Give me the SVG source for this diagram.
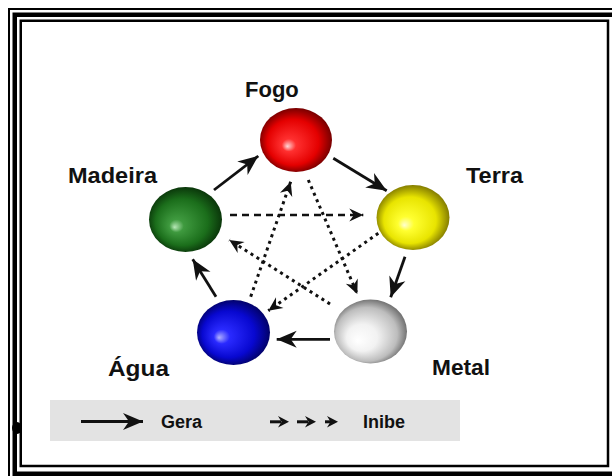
<svg xmlns="http://www.w3.org/2000/svg" width="612" height="476" viewBox="0 0 612 476">
  <defs>
    <style>
      .frame { fill: none; stroke: #000; }
      .label { font-family: "Liberation Sans", Arial, sans-serif; font-weight: bold; font-size: 22px; fill: #111; }
      .legend-text { font-family: "Liberation Sans", Arial, sans-serif; font-weight: bold; font-size: 18px; fill: #111; }
      .gera { fill: none; stroke: #111; stroke-width: 2.8; marker-end: url(#headBig); }
      .inibe { fill: none; stroke: #111; stroke-width: 3; stroke-dasharray: 3 4; marker-end: url(#headSmall); }
      .inibe-dash { fill: none; stroke: #111; stroke-width: 2.6; stroke-dasharray: 7 5; marker-end: url(#headSmall); }
    </style>
    <marker id="headBig" viewBox="-21 -9 22 18" refX="0" refY="0" markerWidth="22" markerHeight="18" orient="auto" markerUnits="userSpaceOnUse">
      <path d="M0,0 L-20,-8.5 L-14,0 L-20,8.5 Z" fill="#111"/>
    </marker>
    <marker id="headSmall" viewBox="-15 -7 16 14" refX="0" refY="0" markerWidth="16" markerHeight="14" orient="auto" markerUnits="userSpaceOnUse">
      <path d="M0,0 L-14,-6.5 L-9.5,0 L-14,6.5 Z" fill="#111"/>
    </marker>
    <radialGradient id="gRed" cx="0.5" cy="0.5" r="0.55" fx="0.38" fy="0.6">
      <stop offset="0" stop-color="#ffd6d6"/>
      <stop offset="0.18" stop-color="#ff3030"/>
      <stop offset="0.65" stop-color="#e40000"/>
      <stop offset="1" stop-color="#5a0000"/>
    </radialGradient>
    <radialGradient id="gGreen" cx="0.5" cy="0.5" r="0.55" fx="0.35" fy="0.62">
      <stop offset="0" stop-color="#b8e8b8"/>
      <stop offset="0.18" stop-color="#3f9a3f"/>
      <stop offset="0.65" stop-color="#1b6e1b"/>
      <stop offset="1" stop-color="#062806"/>
    </radialGradient>
    <radialGradient id="gYellow" cx="0.5" cy="0.5" r="0.55" fx="0.38" fy="0.62">
      <stop offset="0" stop-color="#ffffd0"/>
      <stop offset="0.2" stop-color="#ffff30"/>
      <stop offset="0.65" stop-color="#e8e400"/>
      <stop offset="1" stop-color="#6a6200"/>
    </radialGradient>
    <radialGradient id="gBlue" cx="0.5" cy="0.5" r="0.55" fx="0.3" fy="0.58">
      <stop offset="0" stop-color="#b0b0ff"/>
      <stop offset="0.2" stop-color="#2a2aff"/>
      <stop offset="0.65" stop-color="#0808d0"/>
      <stop offset="1" stop-color="#000050"/>
    </radialGradient>
    <radialGradient id="gWhite" cx="0.5" cy="0.5" r="0.6" fx="0.32" fy="0.65">
      <stop offset="0" stop-color="#ffffff"/>
      <stop offset="0.35" stop-color="#f2f2f2"/>
      <stop offset="0.7" stop-color="#bdbdbd"/>
      <stop offset="1" stop-color="#3c3c3c"/>
    </radialGradient>
  </defs>

  <rect x="0" y="0" width="612" height="476" fill="#fff"/>

  <!-- picture frame -->
  <g id="frame">
    <rect class="frame" x="9" y="9" width="640" height="480" stroke-width="2"/>
    <rect class="frame" x="14.75" y="14.75" width="640" height="459" stroke-width="4.5"/>
    <rect class="frame" x="20.75" y="20.75" width="587.25" height="445.25" stroke-width="2.5"/>
    <ellipse cx="17" cy="428" rx="5" ry="6" fill="#000"/>
  </g>

  <!-- legend band -->
  <g id="legend">
    <rect x="50" y="400" width="410" height="41" fill="#e3e3e3"/>
    <line x1="81" y1="421.5" x2="143" y2="421.5" class="gera"/>
    <text class="legend-text" x="161" y="428">Gera</text>
    <g fill="#111">
      <rect x="270" y="420.3" width="11" height="3"/>
      <path d="M289,421.8 L278,416 L281.5,421.8 L278,427.6 Z"/>
      <rect x="297" y="420.3" width="11" height="3"/>
      <path d="M316,421.8 L305,416 L308.5,421.8 L305,427.6 Z"/>
      <rect x="325" y="420.3" width="6" height="3"/>
      <path d="M338,421.8 L327,416 L330.5,421.8 L327,427.6 Z"/>
    </g>
    <text class="legend-text" x="363" y="428">Inibe</text>
  </g>

  <!-- connectors: generating cycle (solid) and inhibiting star (dotted) -->
  <g id="connectors">
    <line class="gera" x1="214" y1="190" x2="258.3" y2="156"/>
    <line class="gera" x1="333.3" y1="158.3" x2="386.7" y2="190.7"/>
    <line class="gera" x1="405" y1="256.7" x2="390.7" y2="297.3"/>
    <line class="gera" x1="330" y1="339.3" x2="276.7" y2="339.3"/>
    <line class="gera" x1="216" y1="296.7" x2="192.7" y2="259.3"/>

    <line class="inibe-dash" x1="230" y1="215" x2="363.3" y2="215"/>
    <line class="inibe" x1="308.3" y1="180" x2="357.3" y2="294"/>
    <line class="inibe" x1="378.3" y1="233.3" x2="268.3" y2="310.7"/>
    <line class="inibe" x1="330" y1="304" x2="229.3" y2="240"/>
    <line class="inibe" x1="250.7" y1="296.7" x2="290.7" y2="181.7"/>
  </g>

  <!-- elements -->
  <g id="fogo">
    <ellipse cx="296" cy="140" rx="36" ry="32" fill="url(#gRed)"/>
    <text class="label" x="245" y="97">Fogo</text>
  </g>
  <g id="terra">
    <ellipse cx="413" cy="217.5" rx="36.5" ry="32.5" fill="url(#gYellow)"/>
    <text class="label" x="466" y="183" textLength="57" lengthAdjust="spacingAndGlyphs">Terra</text>
  </g>
  <g id="metal">
    <ellipse cx="370.5" cy="331.5" rx="36.5" ry="32" fill="url(#gWhite)"/>
    <text class="label" x="432" y="375" textLength="58" lengthAdjust="spacingAndGlyphs">Metal</text>
  </g>
  <g id="agua">
    <ellipse cx="233.5" cy="332.5" rx="36.5" ry="32.5" fill="url(#gBlue)"/>
    <text class="label" x="108" y="376" textLength="61" lengthAdjust="spacingAndGlyphs">Água</text>
  </g>
  <g id="madeira">
    <ellipse cx="185.5" cy="219.5" rx="36.5" ry="32.5" fill="url(#gGreen)"/>
    <text class="label" x="68" y="183" textLength="89" lengthAdjust="spacingAndGlyphs">Madeira</text>
  </g>
</svg>
